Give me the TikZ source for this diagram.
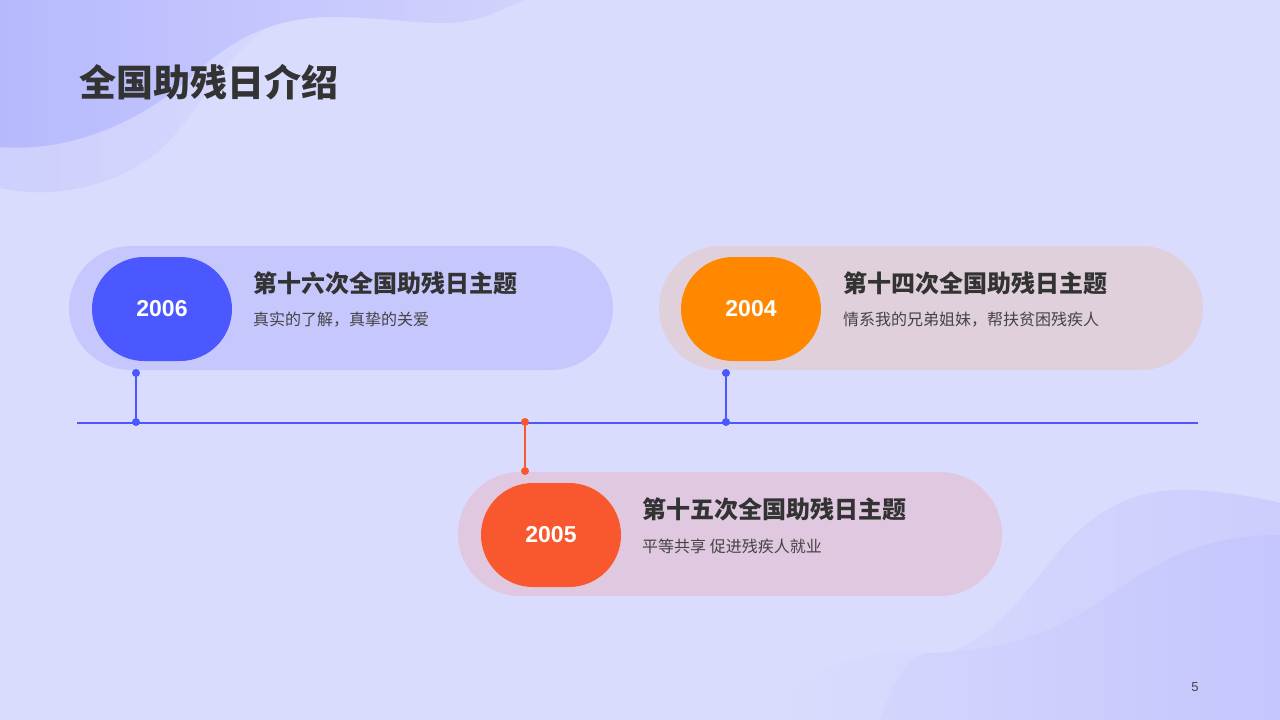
\documentclass[tikz,border=0pt]{standalone}
\usepackage{fontspec}
\setmainfont{Liberation Sans}
\newfontfamily\cjk{Noto Sans CJK SC}
\newfontfamily\numfont{Liberation Sans}
\definecolor{bg}{RGB}{218,220,253}
\definecolor{blobA}{RGB}{206,208,253}
\definecolor{blobDL}{RGB}{182,186,253}
\definecolor{blobDR}{RGB}{210,210,253}
\definecolor{brR}{RGB}{204,205,253}
\definecolor{brDL}{RGB}{212,213,253}
\definecolor{brDR}{RGB}{196,198,253}
\definecolor{cardA}{RGB}{198,200,253}
\definecolor{cardB}{RGB}{224,208,220}
\definecolor{cardC}{RGB}{224,200,224}
\definecolor{cblue}{RGB}{75,87,255}
\definecolor{corange}{RGB}{255,136,0}
\definecolor{cred}{RGB}{249,87,46}
\definecolor{txt}{RGB}{51,51,51}
\definecolor{subtxt}{RGB}{68,68,68}
\tikzset{
  card/.style={rectangle, rounded corners=62pt, minimum width=544pt, minimum height=124pt, inner sep=0pt},
  pill/.style={rectangle, rounded corners=52pt, minimum width=140pt, minimum height=104pt, inner sep=0pt, text=white, font=\numfont\bfseries\fontsize{23}{25}\selectfont},
  ctitle/.style={anchor=west, inner sep=0pt, text=txt, font=\cjk\bfseries\fontsize{24}{26}\selectfont},
  csub/.style={anchor=west, inner sep=0pt, text=subtxt, font=\cjk\fontsize{16}{18}\selectfont},
  dot/.style={circle, inner sep=0pt, minimum size=8pt},
}
\begin{document}
\begin{tikzpicture}[x=1pt,y=-1pt]
\useasboundingbox (0,0) rectangle (1280,720);
\fill[bg] (0,0) rectangle (1280,720);
% top-left blobs
\shade[left color=blobA, right color=bg!60!blobA] (0,0) -- (0,188) .. controls (50,200) and (125,188) .. (170,140) .. controls (210,95) and (235,40) .. (285,18) -- (285,0) -- cycle;
\shade[left color=blobDL, right color=blobDR] (0,0) -- (0,147) .. controls (60,152) and (130,130) .. (190,78) .. controls (230,40) and (270,18) .. (330,17) .. controls (400,17) and (440,30) .. (480,18) .. controls (500,12) and (510,5) .. (525,0) -- cycle;
% bottom-right blobs
\shade[left color=bg, right color=brR] (770,720) .. controls (800,665) and (880,645) .. (933,653) .. controls (980,655) and (1020,600) .. (1060,550) .. controls (1100,505) and (1140,488) .. (1190,490) .. controls (1230,492) and (1260,498) .. (1280,503) -- (1280,720) -- cycle;
\shade[left color=brDL, right color=brDR] (880,720) .. controls (895,680) and (905,655) .. (933,653) .. controls (1010,650) and (1060,630) .. (1110,595) .. controls (1170,550) and (1220,535) .. (1280,535) -- (1280,720) -- cycle;
% title
\node[anchor=west, inner sep=0pt, text=txt, font=\cjk\bfseries\fontsize{37}{40}\selectfont] (title) at (79,82) {全国助残日介绍};
% cards
\node[card, fill=cardA] (c1) at (341,308) {};
\node[pill, fill=cblue] (p1) at (162,309) {2006};
\node[ctitle] (t1) at (253,283) {第十六次全国助残日主题};
\node[csub] (s1) at (253,320) {真实的了解，真挚的关爱};
\node[card, fill=cardB] (c2) at (931,308) {};
\node[pill, fill=corange] (p2) at (751,309) {2004};
\node[ctitle] (t2) at (843,283) {第十四次全国助残日主题};
\node[csub] (s2) at (843,320) {情系我的兄弟姐妹，帮扶贫困残疾人};
\node[card, fill=cardC] (c3) at (730,534) {};
\node[pill, fill=cred] (p3) at (551,535) {2005};
\node[ctitle] (t3) at (642,509) {第十五次全国助残日主题};
\node[csub] (s3) at (642,546) {平等共享 促进残疾人就业};
% timeline
\coordinate (tlL) at (77,423);
\coordinate (tlR) at (1198,423);
\draw[cblue, line width=2pt] (tlL) -- (tlR);
\node[dot, fill=cblue] (d1b) at (136,422) {};
\node[dot, fill=cblue] (d1t) at (136,373) {};
\node[dot, fill=cblue] (d2b) at (726,422) {};
\node[dot, fill=cblue] (d2t) at (726,373) {};
\node[dot, fill=cred] (d3t) at (525,422) {};
\node[dot, fill=cred] (d3b) at (525,471) {};
\draw[cblue, line width=1.3pt] (d1t) -- (d1b);
\draw[cblue, line width=1.3pt] (d2t) -- (d2b);
\draw[cred, line width=1.3pt] (d3t) -- (d3b);
% page number
\node[inner sep=0pt, text=subtxt, font=\fontsize{13}{15}\selectfont] (pg) at (1195,687) {5};
\end{tikzpicture}
\end{document}
